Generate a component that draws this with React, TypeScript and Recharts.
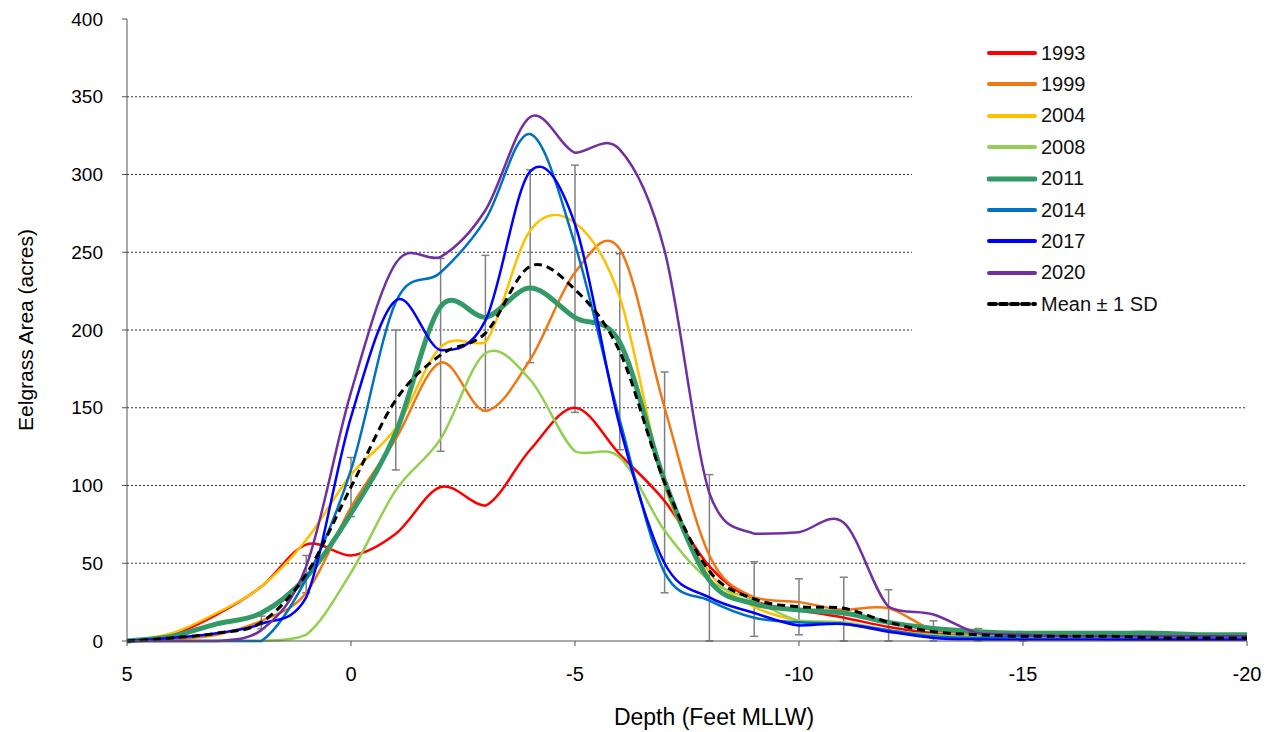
import React from 'react';
import { LineChart, Line, XAxis, YAxis, CartesianGrid, ErrorBar, Label } from 'recharts';

// depth bins (feet MLLW), one value per foot
const depths = [5, 4, 3, 2, 1, 0, -1, -2, -3, -4, -5, -6, -7, -8, -9, -10, -11, -12, -13, -14, -15, -16, -17, -18, -19, -20];

const area1993 = [0, 4, 17, 35, 62, 55, 69, 99, 87, 123, 150, 120, 90, 48, 26, 20, 15, 9, 5, 3, 2, 2, 1, 1, 1, 1];
const area1999 = [0, 1, 4, 13, 31, 86, 130, 179, 148, 181, 237, 252, 150, 55, 28, 25, 20, 21, 7, 5, 4, 4, 3, 3, 3, 3];
const area2004 = [0, 5, 18, 35, 65, 107, 137, 189, 192, 264, 269, 221, 100, 44, 22, 13, 11, 6, 3, 2, 2, 2, 2, 2, 2, 2];
const area2008 = [0, 0, 0, 0, 4, 44, 97, 130, 185, 168, 122, 118, 71, 39, 26, 13, 12, 7, 4, 3, 2, 2, 2, 2, 2, 2];
const area2011 = [0, 3, 11, 18, 41, 82, 134, 215, 208, 227, 208, 192, 103, 39, 24, 20, 18, 12, 8, 6, 5, 5, 5, 5, 4, 4];
const area2014 = [0, 0, 0, 0, 40, 110, 218, 237, 271, 326, 255, 142, 44, 26, 15, 12, 11, 7, 3, 2, 3, 3, 3, 3, 3, 3];
const area2017 = [0, 2, 5, 11, 28, 144, 219, 187, 206, 302, 268, 138, 50, 28, 18, 10, 11, 6, 2, 1, 1, 1, 1, 1, 1, 1];
const area2020 = [0, 0, 0, 7, 48, 160, 243, 247, 277, 337, 314, 316, 251, 95, 69, 70, 76, 22, 17, 5, 4, 3, 3, 3, 3, 3];
const meanArea = [0, 2, 5, 12, 43, 99, 155, 184, 198, 241, 226, 186, 102, 45, 27, 22, 21, 12, 6, 4, 3, 3, 3, 2, 2, 2];
// minus / plus one standard deviation (null = no bar drawn)
const sdMinus = [null, null, null, 4, 12, 19, 45, 62, 50, 62, 79, 63, 71, 45, 24, 18, 21, 12, 6, 4, 3, null, null, null, null, null];
const sdPlus = [null, null, null, 4, 12, 19, 45, 62, 50, 62, 80, 63, 71, 62, 24, 18, 20, 21, 7, 4, 3, null, null, null, null, null];

const yTicks = [0, 50, 100, 150, 200, 250, 300, 350, 400];
const xTicks = [5, 0, -5, -10, -15, -20];

const series = [
  { key: 'a1993', name: '1993', values: area1993, color: '#FF0000', width: 2.5 },
  { key: 'a1999', name: '1999', values: area1999, color: '#F07814', width: 2.5 },
  { key: 'a2004', name: '2004', values: area2004, color: '#FFC000', width: 2.5 },
  { key: 'a2008', name: '2008', values: area2008, color: '#92D050', width: 2.5 },
  { key: 'a2011', name: '2011', values: area2011, color: '#339966', width: 5 },
  { key: 'a2014', name: '2014', values: area2014, color: '#0070C0', width: 2.5 },
  { key: 'a2017', name: '2017', values: area2017, color: '#0000FF', width: 2.5 },
  { key: 'a2020', name: '2020', values: area2020, color: '#7030A0', width: 2.5 },
];

const data = depths.map((d, i) => {
  const row: any = {
    depth: d,
    mean: meanArea[i],
    sd: sdMinus[i] == null ? null : [sdMinus[i], sdPlus[i]],
  };
  series.forEach((s) => {
    row[s.key] = s.values[i];
  });
  return row;
});

// Excel-like smoothed line (Catmull-Rom through every point),
// control points kept from dropping below the lower end of each segment
function smoothCurve(context: any) {
  let pts: number[][] = [];
  return {
    areaStart() {},
    areaEnd() {},
    lineStart() {
      pts = [];
    },
    point(x: number, y: number) {
      pts.push([+x, +y]);
    },
    lineEnd() {
      const n = pts.length;
      if (!n) return;
      context.moveTo(pts[0][0], pts[0][1]);
      for (let i = 0; i < n - 1; i++) {
        const p0 = pts[i - 1] || pts[i];
        const p1 = pts[i];
        const p2 = pts[i + 1];
        const p3 = pts[i + 2] || p2;
        const low = Math.max(p1[1], p2[1]);
        context.bezierCurveTo(
          p1[0] + (p2[0] - p0[0]) / 6,
          Math.min(low, p1[1] + (p2[1] - p0[1]) / 6),
          p2[0] - (p3[0] - p1[0]) / 6,
          Math.min(low, p2[1] - (p3[1] - p1[1]) / 6),
          p2[0],
          p2[1],
        );
      }
    },
  };
}

const font = 'Liberation Sans, Arial, sans-serif';

const XTitle = (props: any) => {
  const vb = props.viewBox;
  return (
    <text x={vb.x + vb.width / 2 + 27} y={717} textAnchor="middle" fontSize={23} fill="#000" fontFamily={font}>
      Depth (Feet MLLW)
    </text>
  );
};

const YTitle = () => (
  <text
    x={17}
    y={322}
    transform="rotate(-90 17 322)"
    textAnchor="middle"
    dominantBaseline="central"
    fontSize={21}
    fill="#000"
    fontFamily={font}
  >
    Eelgrass Area (acres)
  </text>
);

function ChartLegend() {
  const rows = [...series.map((s) => ({ name: s.name, color: s.color, width: s.width === 5 ? 5 : 4, dash: undefined as any })),
    { name: 'Mean \u00b1 1 SD', color: '#000', width: 4, dash: '7 4' }];
  return (
    <div style={{ position: 'absolute', left: 904, top: 14, width: 336, height: 322, background: '#fff' }}>
      {rows.map((r, i) => (
        <div key={r.name} style={{ position: 'absolute', left: 75, top: 31 + i * 31.4 - 12, height: 24, display: 'flex', alignItems: 'center' }}>
          <svg width={50} height={24}>
            <line x1={2} x2={48} y1={12} y2={12} stroke={r.color} strokeWidth={r.width} strokeDasharray={r.dash} strokeLinecap="round" />
          </svg>
          <span style={{ fontFamily: font, fontSize: 20, color: '#111', marginLeft: 4, whiteSpace: 'nowrap' }}>{r.name}</span>
        </div>
      ))}
    </div>
  );
}

export default function App() {
  return (
    <div style={{ position: 'relative', width: 1260, height: 724, fontFamily: font }}>
      <LineChart width={1260} height={724} data={data} margin={{ top: 11, right: 21, bottom: 0, left: 0 }}>
        <CartesianGrid vertical={false} horizontalValues={[50, 100, 150, 200, 250, 300, 350]} stroke="#333" strokeDasharray="2 2" />
        <XAxis
          dataKey="depth"
          type="number"
          domain={[-20, 5]}
          reversed
          ticks={xTicks}
          height={91}
          tickSize={5}
          tickMargin={21}
          stroke="#555"
          tick={{ fill: '#000', fontSize: 20, fontFamily: font }}
        >
          <Label content={<XTitle />} />
        </XAxis>
        <YAxis
          type="number"
          domain={[0, 400]}
          ticks={yTicks}
          width={119}
          tickSize={5}
          tickMargin={19}
          stroke="#555"
          tick={{ fill: '#000', fontSize: 19, fontFamily: font }}
        >
          <Label content={<YTitle />} />
        </YAxis>
        <Line dataKey="mean" stroke="none" dot={false} isAnimationActive={false} legendType="none">
          <ErrorBar dataKey="sd" direction="y" width={4} stroke="#808080" strokeWidth={1.5} />
        </Line>
        {series.map((s) => (
          <Line
            key={s.key}
            dataKey={s.key}
            name={s.name}
            type={smoothCurve as any}
            stroke={s.color}
            strokeWidth={s.width}
            dot={false}
            isAnimationActive={false}
          />
        ))}
        <Line
          dataKey="mean"
          name="Mean ± 1 SD"
          type={smoothCurve as any}
          stroke="#000"
          strokeWidth={3}
          strokeDasharray="8 5"
          dot={false}
          isAnimationActive={false}
        />
      </LineChart>
      <ChartLegend />
    </div>
  );
}
